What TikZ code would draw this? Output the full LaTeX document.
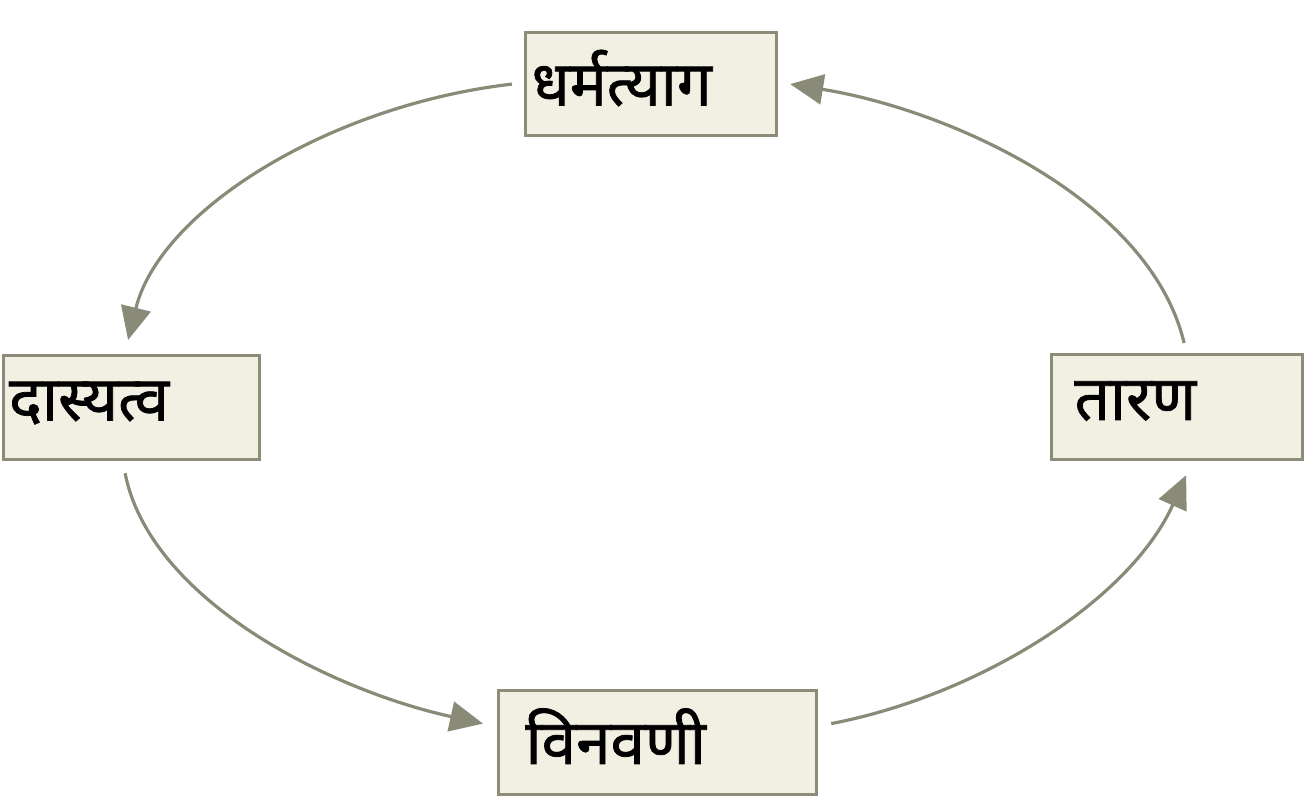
\documentclass[tikz,border=0pt]{standalone}
\usepackage{fontspec}
\newfontfamily\deva[Script=Devanagari,FakeBold=1.2]{Noto Sans}
\usetikzlibrary{arrows.meta}
\definecolor{boxfill}{HTML}{F2F0E3}
\definecolor{boxdraw}{HTML}{8C8C78}
\definecolor{arr}{HTML}{8A8A78}
\tikzset{
  stagebox/.style={draw=boxdraw, fill=boxfill, line width=3.2pt, anchor=north west,
    inner sep=0pt, align=left, font=\deva\fontsize{62}{66}\selectfont, text=black},
  cyc/.style={draw=arr, line width=3.2pt, -{Triangle[length=33pt,width=30pt]}}
}
\begin{document}
\begin{tikzpicture}[x=1pt,y=-1pt]
\useasboundingbox (0,0) rectangle (1304,803);
\node[stagebox, minimum width=251pt, minimum height=103pt, text width=241pt] (top) at (524,31) {\hspace*{1pt}\raisebox{13pt}{धर्मत्याग}};
\node[stagebox, minimum width=256pt, minimum height=104pt, text width=246pt] (left) at (1.5,354) {\hspace*{1pt}\raisebox{13pt}{दास्यत्व}};
\node[stagebox, minimum width=251pt, minimum height=105pt, text width=241pt] (right) at (1050,353) {\hspace*{18pt}\raisebox{13pt}{तारण}};
\node[stagebox, minimum width=318pt, minimum height=104pt, text width=308pt] (bottom) at (497,689) {\hspace*{22pt}\raisebox{13pt}{विनवणी}};
\draw[cyc] ([xshift=-12pt]top.west) .. controls (330,105) and (160,210) .. ([xshift=-3pt,yshift=14pt]left.north);
\draw[cyc] ([xshift=-6pt,yshift=-12pt]left.south) .. controls (150,600) and (330,690) .. ([xshift=-14pt,yshift=19pt]bottom.west);
\draw[cyc] ([xshift=13pt,yshift=19pt]bottom.east) .. controls (980,695) and (1130,600) .. ([xshift=9pt,yshift=-14pt]right.south);
\draw[cyc] ([xshift=7pt,yshift=10pt]right.north) .. controls (1150,200) and (950,110) .. ([xshift=12pt]top.east);
\end{tikzpicture}
\end{document}
